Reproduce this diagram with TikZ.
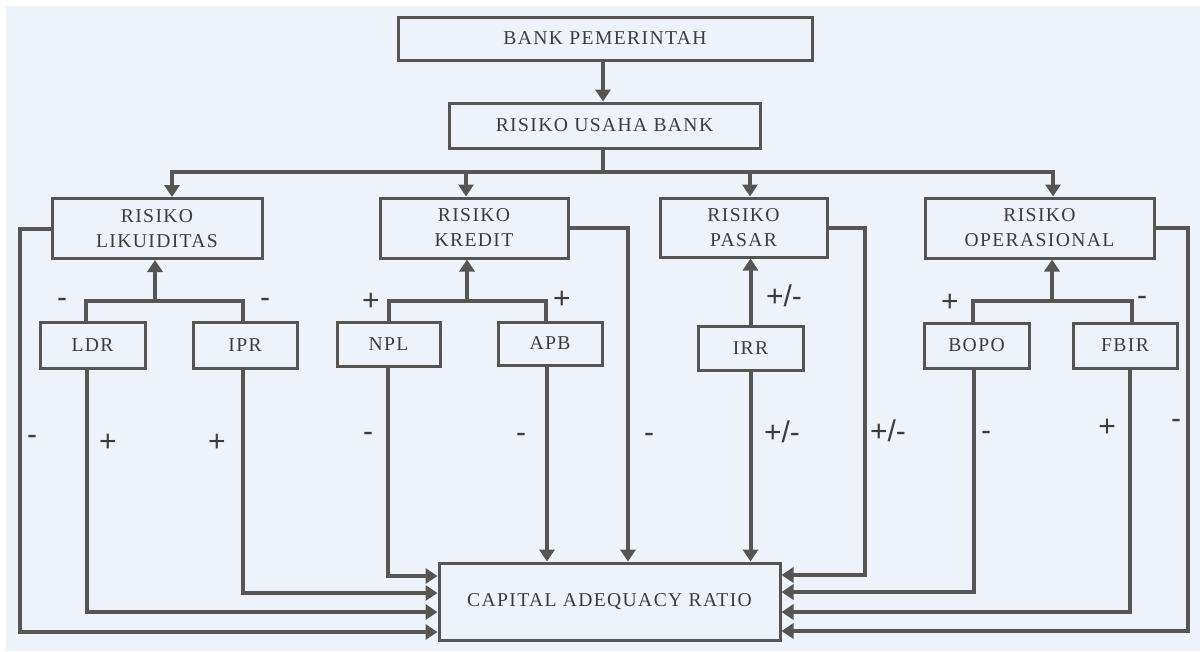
\documentclass[tikz,border=0pt]{standalone}
\usepackage{fontspec}
\newfontfamily\boxfont{Liberation Serif}[LetterSpace=7]
\newfontfamily\labfont{Liberation Sans}
\usetikzlibrary{arrows.meta}
\definecolor{bgc}{RGB}{238,242,249}
\definecolor{linec}{RGB}{85,85,85}
\definecolor{textc}{RGB}{60,60,60}
\begin{document}
\begin{tikzpicture}[x=1pt,y=-1pt,
  box/.style={draw=linec, line width=3pt, inner sep=0pt, text=textc, align=center,
    font=\boxfont\fontsize{19.6}{25}\selectfont},
  wire/.style={draw=linec, line width=4pt, line cap=rect},
  arr/.style={wire, -{Triangle[length=12pt,width=15pt]}},
  lab/.style={text=textc, anchor=base, inner sep=0pt, font=\labfont\fontsize{30}{30}\selectfont}]
\useasboundingbox (0,0) rectangle (1200,651);
\fill[white] (0,0) rectangle (1200,651);
\fill[bgc] (6,6) rectangle (1200,651);

% boxes
\node[box, minimum width=414pt, minimum height=43pt] (bank) at (605,38.5) {BANK PEMERINTAH};
\node[box, minimum width=311pt, minimum height=45pt] (usaha) at (604.5,125.5) {RISIKO USAHA BANK};
\node[box, minimum width=210pt, minimum height=60pt] (lik) at (157,228.5) {RISIKO\\LIKUIDITAS};
\node[box, minimum width=188pt, minimum height=60pt] (kre) at (474,228) {RISIKO\\KREDIT};
\node[box, minimum width=167pt, minimum height=59pt] (pas) at (743.5,227.5) {RISIKO\\PASAR};
\node[box, minimum width=229pt, minimum height=60pt] (ops) at (1039.5,228) {RISIKO\\OPERASIONAL};
\node[box, minimum width=105pt, minimum height=46pt] (ldr) at (92.5,345) {LDR};
\node[box, minimum width=104pt, minimum height=46pt] (ipr) at (245,345) {IPR};
\node[box, minimum width=103pt, minimum height=44pt] (npl) at (388.5,344) {NPL};
\node[box, minimum width=104pt, minimum height=43pt] (apb) at (550,343.5) {APB};
\node[box, minimum width=105pt, minimum height=44pt] (irr) at (750.5,348) {IRR};
\node[box, minimum width=105pt, minimum height=45pt] (bopo) at (976.5,345.5) {BOPO};
\node[box, minimum width=104pt, minimum height=45pt] (fbir) at (1125,345.5) {FBIR};
\node[box, minimum width=341pt, minimum height=77pt] (car) at (609.5,601.5) {CAPITAL ADEQUACY RATIO};

% top
\coordinate (vb) at (603,0);
\draw[arr] (bank.south -| vb) -- (usaha.north -| vb);
\coordinate (bus0) at (603,172);
\coordinate (busL) at (172,172);
\coordinate (busK) at (466,172);
\coordinate (busP) at (750,172);
\coordinate (busO) at (1053,172);
\draw[wire] (usaha.south -| bus0) -- (bus0);
\draw[wire] (busL) -- (busO);
\draw[arr] (busL) -- (busL |- lik.north);
\draw[arr] (busK) -- (busK |- kre.north);
\draw[arr] (busP) -- (busP |- pas.north);
\draw[arr] (busO) -- (busO |- ops.north);

% sub-branches
\coordinate (jL) at (155,301); \coordinate (jL1) at (86,301); \coordinate (jL2) at (243,301);
\draw[wire] (jL1 |- ldr.north) -- (jL1) -- (jL2) -- (jL2 |- ipr.north);
\draw[arr] (jL) -- (jL |- lik.south);
\coordinate (jK) at (467,301); \coordinate (jK1) at (389,301); \coordinate (jK2) at (546,301);
\draw[wire] (jK1 |- npl.north) -- (jK1) -- (jK2) -- (jK2 |- apb.north);
\draw[arr] (jK) -- (jK |- kre.south);
\draw[arr] (irr.north) -- (irr.north |- pas.south);
\coordinate (jO) at (1052,301); \coordinate (jO1) at (973,301); \coordinate (jO2) at (1132,301);
\draw[wire] (jO1 |- bopo.north) -- (jO1) -- (jO2) -- (jO2 |- fbir.north);
\draw[arr] (jO) -- (jO |- ops.south);

% to CAR, left
\coordinate (cL) at (20,632);
\draw[arr] (lik.west) -| (cL) -- (cL -| car.west);
\coordinate (cLDR) at (87,612);
\draw[arr] (cLDR |- ldr.south) -- (cLDR) -- (cLDR -| car.west);
\coordinate (cIPR) at (243,593);
\draw[arr] (cIPR |- ipr.south) -- (cIPR) -- (cIPR -| car.west);
\coordinate (cNPL) at (388,576);
\draw[arr] (cNPL |- npl.south) -- (cNPL) -- (cNPL -| car.west);
% to CAR, top
\coordinate (cAPB) at (547,400);
\draw[arr] (cAPB |- apb.south) -- (cAPB |- car.north);
\coordinate (cKre) at (628,400);
\draw[arr] (kre.east) -| (cKre |- car.north);
\draw[arr] (irr.south) -- (irr.south |- car.north);
% to CAR, right
\coordinate (cPas) at (865,575);
\draw[arr] (pas.east) -| (cPas) -- (cPas -| car.east);
\coordinate (cBOPO) at (974,592);
\draw[arr] (cBOPO |- bopo.south) -- (cBOPO) -- (cBOPO -| car.east);
\coordinate (cFBIR) at (1130,612);
\draw[arr] (cFBIR |- fbir.south) -- (cFBIR) -- (cFBIR -| car.east);
\coordinate (cOps) at (1188,631);
\draw[arr] (ops.east) -| (cOps) -- (cOps -| car.east);

% labels
\node[lab] (l1) at (62,307.2) {-};
\node[lab] (l2) at (265,307.2) {-};
\node[lab] (l3) at (371,310.5) {+};
\node[lab] (l4) at (562,308.5) {+};
\node[lab] (l5) at (784,306.6) {+/-};
\node[lab] (l6) at (950,311.5) {+};
\node[lab] (l7) at (1142,305.2) {-};
\node[lab] (l8) at (32,444.2) {-};
\node[lab] (l9) at (108,451.5) {+};
\node[lab] (l10) at (217,451.5) {+};
\node[lab] (l11) at (368,441.2) {-};
\node[lab] (l12) at (521,442.2) {-};
\node[lab] (l13) at (649,442.2) {-};
\node[lab] (l14) at (782,442.6) {+/-};
\node[lab] (l15) at (888,441.6) {+/-};
\node[lab] (l16) at (986,440.2) {-};
\node[lab] (l17) at (1107,436.5) {+};
\node[lab] (l18) at (1176,428.2) {-};
\end{tikzpicture}
\end{document}
